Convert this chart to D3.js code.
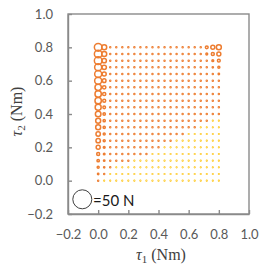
<!DOCTYPE html>
<html lang="en">
<head>
<meta charset="UTF-8"/>
<title>Force map over joint torques</title>
<script src="https://d3js.org/d3.v7.min.js"></script>
<style>
    body { margin: 0; background: #fff; }
    .axis text { font-family: Lato, "Noto Sans", sans-serif; font-size: 13px; fill: #595959; }
    .axis path, .axis line { stroke: #8a8a8a; stroke-width: 1.4; }
</style>
</head>
<body>
<script>
    // Set dimensions
    var w = 266;
    var h = 272;
    var plotLeft = 68, plotRight = 249, plotTop = 14, plotBottom = 214;

    // Grid of joint torques (Nm)
    var tau1 = [0.00, 0.04, 0.08, 0.12, 0.16, 0.20, 0.24, 0.28, 0.32, 0.36, 0.40,
                0.44, 0.48, 0.52, 0.56, 0.60, 0.64, 0.68, 0.72, 0.76, 0.80];
    var tau2 = [0.80, 0.76, 0.72, 0.68, 0.64, 0.60, 0.56, 0.52, 0.48, 0.44, 0.40,
                0.36, 0.32, 0.28, 0.24, 0.20, 0.16, 0.12, 0.08, 0.04, 0.00];
    var ticks = [-0.2, 0.0, 0.2, 0.4, 0.6, 0.8, 1.0];

    // Force magnitude (N) at each grid point, one row per tau2 (top to bottom)
    var force = [
        [19,12.5,2.5,2.5,2.5,2.5,2.5,2.5,2.5,2.5,2.5,2.5,2.5,2.5,2.5,2.5,2.5,2.5,7,10,12.5],
        [19,12.5,2.5,2.5,2.5,2.5,2.5,2.5,2.5,2.5,2.5,2.5,2.5,2.5,2.5,2.5,2.5,2.5,4.5,7.5,10],
        [19,11,2.5,2.5,2.5,2.5,2.5,2.5,2.5,2.5,2.5,2.5,2.5,2.5,2.5,2.5,2.5,2.5,2.5,4.5,7],
        [17.5,11,2.5,2.5,2.5,2.5,2.5,2.5,2.5,2.5,2.5,2.5,2.5,2.5,2.5,2.5,2.5,2.5,2.5,3,5],
        [17.5,10,2.5,2.5,2.5,2.5,2.5,2.5,2.5,2.5,2.5,2.5,2.5,2.5,2.5,2.5,2.5,2.5,2.5,2.5,3.5],
        [17.5,9,2.5,2.5,2.5,2.5,2.5,2.5,2.5,2.5,2.5,2.5,2.5,2.5,2.5,2.5,2.5,2.5,2.5,2.5,2.5],
        [16,8.5,2.5,2.5,2.5,2.5,2.5,2.5,2.5,2.5,2.5,2.5,2.5,2.5,2.5,2.5,2.5,2.5,2.5,2.5,2.5],
        [16,8,2.5,2.5,2.5,2.5,2.5,2.5,2.5,2.5,2.5,2.5,2.5,2.5,2.5,2.5,2.5,2.5,2.5,2.5,2.5],
        [16,7.5,2.5,2.5,2.5,2.5,2.5,2.5,2.5,2.5,2.5,2.5,2.5,2.5,2.5,2.5,2.5,2.5,2.5,2.5,2.5],
        [15,6.5,2.5,2.5,2.5,2.5,2.5,2.5,2.5,2.5,2.5,2.5,2.5,2.5,2.5,2.5,2.5,2.5,2.5,2.5,2.5],
        [14,6,2.5,2.5,2.5,2.5,2.5,2.5,2.5,2.5,2.5,2.5,2.5,2.5,2.5,2.5,2.5,2.5,2.5,2.5,2.5],
        [12.5,5.5,2.5,2.5,2.5,2.5,2.5,2.5,2.5,2.5,2.5,2.5,2.5,2.5,2.5,2.5,2.5,2.5,2.5,1.5,1.5],
        [12.5,5.5,2.5,2.5,2.5,2.5,2.5,2.5,2.5,2.5,2.5,2.5,2.5,2.5,2.5,2.5,2.5,1.5,1.5,1.5,1.5],
        [11,5,2.5,2.5,2.5,2.5,2.5,2.5,2.5,2.5,2.5,2.5,2.5,2.5,2.5,1.5,1.5,1.5,1.5,1.5,1.5],
        [11,5,2.5,2.5,2.5,2.5,2.5,2.5,2.5,2.5,2.5,2.5,2.5,1.5,1.5,1.5,1.5,1.5,1.5,1.5,1.5],
        [10,4.5,2.5,2.5,2.5,2.5,2.5,2.5,2.5,2.5,2.5,1.5,1.5,1.5,1.5,1.5,1.5,1.5,1.5,1.5,1.5],
        [7.5,4,2.5,2.5,2.5,2.5,2.5,2.5,2.5,1.5,1.5,1.5,1.5,1.5,1.5,1.5,1.5,1.5,1.5,1.5,1.5],
        [6,3.5,2.5,2.5,2.5,2.5,1.5,1.5,1.5,1.5,1.5,1.5,1.5,1.5,1.5,1.5,1.5,1.5,1.5,1.5,1.5],
        [5,3,2.5,1.5,1.5,1.5,1.5,1.5,1.5,1.5,1.5,1.5,1.5,1.5,1.5,1.5,1.5,1.5,1.5,1.5,1.5],
        [3.5,2.5,1.5,1.5,1.5,1.5,1.5,1.5,1.5,1.5,1.5,1.5,1.5,1.5,1.5,1.5,1.5,1.5,1.5,1.5,1.5],
        [2.5,1.5,1.5,1.5,1.5,1.5,1.5,1.5,1.5,1.5,1.5,1.5,1.5,1.5,1.5,1.5,1.5,1.5,1.5,1.5,1.5]
    ];

    // Series of each point: o = orange, y = yellow
    var series = [
        "ooooooooooooooooooooo",
        "ooooooooooooooooooooo",
        "ooooooooooooooooooooo",
        "ooooooooooooooooooooo",
        "ooooooooooooooooooooo",
        "ooooooooooooooooooooo",
        "ooooooooooooooooooooo",
        "ooooooooooooooooooooo",
        "ooooooooooooooooooooo",
        "ooooooooooooooooooooo",
        "ooooooooooooooooooooo",
        "oooooooooooooooooooyy",
        "oooooooooooooooooyyyy",
        "oooooooooooooooyyyyyy",
        "oooooooooooooyyyyyyyy",
        "oooooooooooyyyyyyyyyy",
        "oooooooooyyyyyyyyyyyy",
        "ooooooyyyyyyyyyyyyyyy",
        "oooyyyyyyyyyyyyyyyyyy",
        "ooyyyyyyyyyyyyyyyyyyy",
        "oyyyyyyyyyyyyyyyyyyyy"
    ];
    var legendForce = 50;

    var colour = { o: "#ED7D31", y: "#FFC000" };

    // Flatten grid into points
    var points = [];
    tau2.forEach(function (t2, i) {
        tau1.forEach(function (t1, j) {
            points.push({ t1: t1, t2: t2, f: force[i][j], s: series[i][j] });
        });
    });

    // Scales
    var xScale = d3.scaleLinear().domain([-0.2, 1.0]).range([plotLeft, plotRight]);
    var yScale = d3.scaleLinear().domain([-0.2, 1.0]).range([plotBottom, plotTop]);
    var rScale = d3.scaleLinear().domain([0, legendForce]).range([0, 10]);

    var svg = d3.select("body")
        .append("svg")
        .attr("width", w)
        .attr("height", h);

    // Frame round the plot
    svg.append("rect")
        .attr("x", plotLeft)
        .attr("y", plotTop)
        .attr("width", plotRight - plotLeft)
        .attr("height", plotBottom - plotTop)
        .attr("fill", "none")
        .attr("stroke", "#8a8a8a")
        .attr("stroke-width", 1.4);

    var fmt = d3.format(".1f");

    svg.append("g")
        .attr("class", "axis")
        .attr("transform", `translate(0,${plotBottom})`)
        .call(d3.axisBottom(xScale).tickValues(ticks).tickFormat(fmt)
            .tickSizeInner(-4).tickSizeOuter(0).tickPadding(16));

    svg.append("g")
        .attr("class", "axis")
        .attr("transform", `translate(${plotLeft},0)`)
        .call(d3.axisLeft(yScale).tickValues(ticks).tickFormat(fmt)
            .tickSizeInner(-4).tickSizeOuter(0).tickPadding(15));

    // Force circles, largest first
    svg.append("g")
        .selectAll("circle")
        .data(points.sort((a, b) => b.f - a.f))
        .enter()
        .append("circle")
        .attr("cx", d => xScale(d.t1))
        .attr("cy", d => yScale(d.t2))
        .attr("r", d => rScale(d.f))
        .attr("fill", "none")
        .attr("stroke", d => colour[d.s])
        .attr("stroke-width", 1.5);

    // Size legend
    svg.append("circle")
        .attr("cx", 82.3)
        .attr("cy", 199.3)
        .attr("r", rScale(legendForce) - 0.5)
        .attr("fill", "none")
        .attr("stroke", "#404040")
        .attr("stroke-width", 1);

    svg.append("text")
        .attr("x", 93)
        .attr("y", 199.5)
        .attr("dominant-baseline", "central")
        .attr("font-family", "Lato, 'Noto Sans', sans-serif")
        .attr("font-size", 15)
        .attr("fill", "#1a1a1a")
        .text("=" + legendForce + " N");

    // Axis titles
    var xt = svg.append("text")
        .attr("x", 161)
        .attr("y", 260)
        .attr("text-anchor", "middle")
        .attr("font-family", "'Liberation Serif', serif")
        .attr("font-size", 16)
        .attr("fill", "#404040");
    xt.append("tspan").attr("font-style", "italic").text("τ");
    xt.append("tspan").attr("font-size", 11).attr("dy", 3).text("1");
    xt.append("tspan").attr("dy", -3).text(" (Nm)");

    var yt = svg.append("text")
        .attr("transform", "translate(22,111.5) rotate(-90)")
        .attr("text-anchor", "middle")
        .attr("font-family", "'Liberation Serif', serif")
        .attr("font-size", 16)
        .attr("fill", "#404040");
    yt.append("tspan").attr("font-style", "italic").text("τ");
    yt.append("tspan").attr("font-size", 11).attr("dy", 3).text("2");
    yt.append("tspan").attr("dy", -3).text(" (Nm)");
</script>
</body>
</html>
